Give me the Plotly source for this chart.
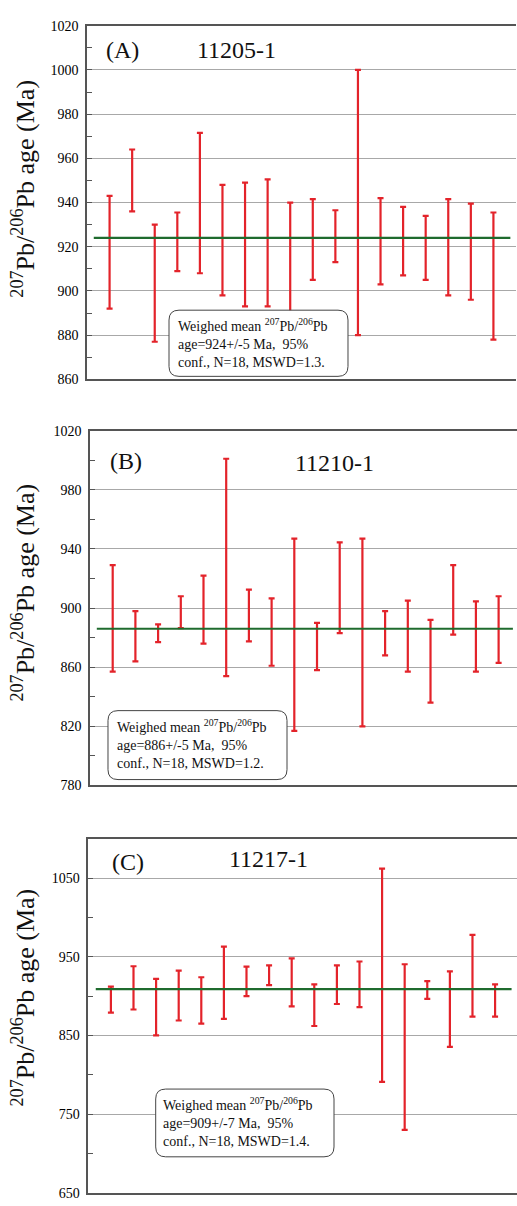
import plotly.graph_objects as go

W, H = 517, 1206

# ---- data ----
spots = list(range(1, 19))

a_low = [892, 936, 877, 909, 908, 898, 893, 893, 886, 905, 913, 880, 903, 907, 905, 898, 896, 878]
a_high = [943, 964, 930, 935.5, 971.5, 948, 949, 950.5, 940, 941.5, 936.5, 1000, 942, 938, 934, 941.5, 939.5, 935.5]
a_mean = 924

b_low = [857, 864, 877, 886.5, 876, 854, 877.5, 861, 817, 858, 883, 820, 868, 857, 836, 882, 857, 863]
b_high = [929, 898, 889, 908, 922, 1001, 912.5, 906.5, 947, 890, 944.5, 947, 898, 905, 892, 929, 904.5, 908]
b_mean = 886

c_low = [879, 883, 850, 869, 865, 871, 900, 914, 887, 862, 890, 886, 791, 730, 896.5, 835.5, 874, 874]
c_high = [912, 938, 922, 932.5, 924, 963, 937.5, 939, 948, 915, 939, 944, 1062, 940.5, 919, 931.5, 978, 915]
c_mean = 909

panel_tags = ["(A)", "(B)", "(C)"]
sample_names = ["11205-1", "11210-1", "11217-1"]
stats_text = [
    "Weighed mean <sup>207</sup>Pb/<sup>206</sup>Pb<br>age=924+/-5 Ma,  95%<br>conf., N=18, MSWD=1.3.",
    "Weighed mean <sup>207</sup>Pb/<sup>206</sup>Pb<br>age=886+/-5 Ma,  95%<br>conf., N=18, MSWD=1.2.",
    "Weighed mean <sup>207</sup>Pb/<sup>206</sup>Pb<br>age=909+/-7 Ma,  95%<br>conf., N=18, MSWD=1.4.",
]
y_title = "<sup>207</sup>Pb/<sup>206</sup>Pb age (Ma)"

# ---- styling / layout ----
FONT = "Liberation Serif, serif"
RED = "#e3232a"
GREEN = "#1f6b2e"
GRID = "#a8a8a8"
AXIS = "#555555"


def px(x):
    return x / W


def py(y):
    return 1 - y / H


panels = [
    dict(low=a_low, high=a_high, mean=a_mean, xdom=(87, 516), ydom=(19, 377), xr=[0, 19],
         yr=[860, 1020], dtick=20, minor=10, tick0=860, ml=(0.3, 18.75),
         box=(169, 307, 348, 374), txt=(176, 340.5), tag=(104, 44), name=(195, 44), title_y=184),
    dict(low=b_low, high=b_high, mean=b_mean, xdom=(90, 517), ydom=(429, 788.3), xr=[0, 18.81],
         yr=[780, 1020], dtick=40, minor=20, tick0=780, ml=(0.3, 18.63),
         box=(108, 712.5, 287, 782.3), txt=(115, 746.5), tag=(108, 460), name=(293, 462), title_y=593),
    dict(low=c_low, high=c_high, mean=c_mean, xdom=(88.3, 517), ydom=(842.3, 1200.7), xr=[0, 18.97],
         yr=[650, 1100], dtick=100, minor=50, tick0=650, ml=(0.33, 18.73),
         box=(155.7, 1095.7, 334, 1164.3), txt=(161, 1129), tag=(110, 866), name=(227, 863), title_y=1003),
]

fig = go.Figure()
shapes = []
annotations = []


def rounded_path(x0, y0, x1, y1, r):
    X = lambda v: f"{px(v):.6f}"
    Y = lambda v: f"{py(v):.6f}"
    pts = [
        f"M {X(x0 + r)},{Y(y0)}",
        f"L {X(x1 - r)},{Y(y0)}",
        f"Q {X(x1)},{Y(y0)} {X(x1)},{Y(y0 + r)}",
        f"L {X(x1)},{Y(y1 - r)}",
        f"Q {X(x1)},{Y(y1)} {X(x1 - r)},{Y(y1)}",
        f"L {X(x0 + r)},{Y(y1)}",
        f"Q {X(x0)},{Y(y1)} {X(x0)},{Y(y1 - r)}",
        f"L {X(x0)},{Y(y0 + r)}",
        f"Q {X(x0)},{Y(y0)} {X(x0 + r)},{Y(y0)}",
        "Z",
    ]
    return " ".join(pts)


# axis titles first
for p in panels:
    annotations.append(dict(xref="paper", yref="paper", x=px(24), y=py(p["title_y"]),
                            xanchor="center", yanchor="middle", showarrow=False, textangle=-90,
                            text=y_title, font=dict(family=FONT, size=26, color="#111111")))

for i, p in enumerate(panels):
    n = "" if i == 0 else str(i + 1)
    xa, ya = "x" + n, "y" + n
    center = [(lo + hi) / 2 for lo, hi in zip(p["low"], p["high"])]
    half = [(hi - lo) / 2 for lo, hi in zip(p["low"], p["high"])]
    fig.add_trace(go.Scatter(
        x=spots, y=center, xaxis=xa, yaxis=ya, mode="markers",
        marker=dict(size=1, color=RED, opacity=0),
        error_y=dict(type="data", array=half, symmetric=True, color=RED, thickness=2.2, width=3),
        showlegend=False, hoverinfo="skip"))

    fig.update_layout(**{
        ("xaxis" + n): dict(domain=[px(p["xdom"][0]), px(p["xdom"][1])], range=p["xr"], anchor=ya,
                            showgrid=False, zeroline=False, showticklabels=False, ticks="",
                            showline=True, linecolor=AXIS, linewidth=1.5, mirror=True),
        ("yaxis" + n): dict(domain=[py(p["ydom"][1]), py(p["ydom"][0])], range=p["yr"], anchor=xa,
                            tick0=p["tick0"], dtick=p["dtick"], showgrid=True, gridcolor=GRID, gridwidth=1,
                            zeroline=False, showline=True, linecolor=AXIS, linewidth=1.5,
                            ticks="inside", ticklen=5, tickcolor=AXIS,
                            minor=dict(dtick=p["minor"], tick0=p["tick0"], ticks="inside", ticklen=5,
                                       tickcolor=AXIS, showgrid=False),
                            tickfont=dict(family=FONT, size=14, color="black"), ticklabelstandoff=4),
    })

    shapes.append(dict(type="line", xref=xa, yref=ya, x0=p["ml"][0], x1=p["ml"][1],
                       y0=p["mean"], y1=p["mean"], line=dict(color=GREEN, width=2.2), layer="above"))
    bx = p["box"]
    shapes.append(dict(type="path", xref="paper", yref="paper", path=rounded_path(*bx, 10),
                       fillcolor="white", line=dict(color="#444444", width=1), layer="above"))

    annotations.append(dict(xref="paper", yref="paper", x=px(p["txt"][0]), y=py(p["txt"][1]),
                            xanchor="left", yanchor="middle", align="left", showarrow=False,
                            text=stats_text[i], font=dict(family=FONT, size=14, color="#111111")))
    annotations.append(dict(xref="paper", yref="paper", x=px(p["tag"][0]), y=py(p["tag"][1]),
                            xanchor="left", yanchor="middle", showarrow=False,
                            text=panel_tags[i], font=dict(family=FONT, size=24, color="#111111")))
    annotations.append(dict(xref="paper", yref="paper", x=px(p["name"][0]), y=py(p["name"][1]),
                            xanchor="left", yanchor="middle", showarrow=False,
                            text=sample_names[i], font=dict(family=FONT, size=24, color="#111111")))

fig.update_layout(width=W, height=H, margin=dict(l=0, r=0, t=0, b=0),
                  paper_bgcolor="white", plot_bgcolor="white", font=dict(family=FONT),
                  shapes=shapes, annotations=annotations, showlegend=False)

fig.write_html("out.html")
